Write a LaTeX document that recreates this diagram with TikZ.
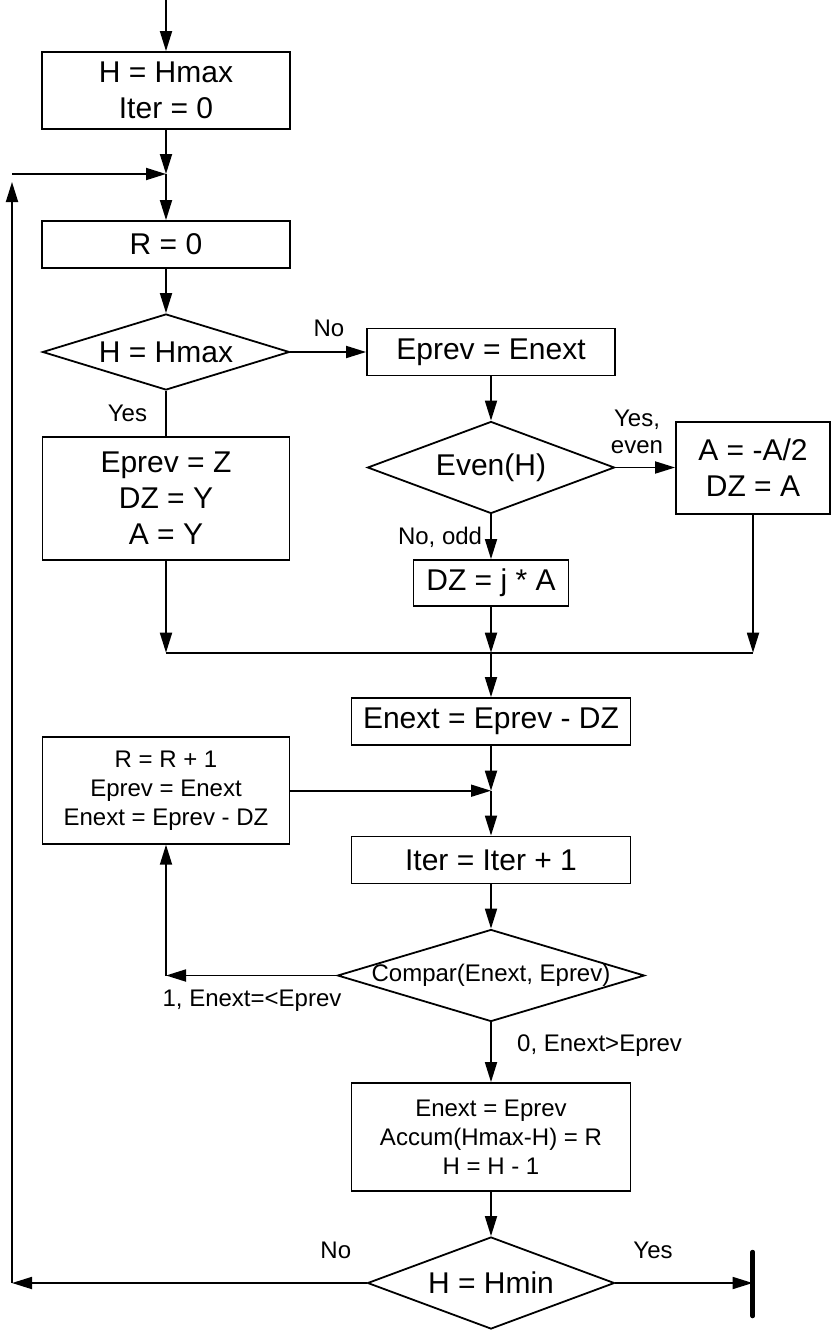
\documentclass[tikz,border=0pt]{standalone}
\usepackage{fontspec}
\setmainfont{Liberation Sans}
\usetikzlibrary{arrows.meta,shapes.geometric}
\tikzset{
  ln/.style={line width=1.8pt},
  arr/.style={ln, -{Triangle[length=20pt,width=12pt]}},
  big/.style={font=\fontsize{30}{36}\selectfont, align=center, inner sep=0pt},
  sml/.style={font=\fontsize{24}{29}\selectfont, align=center, inner sep=0pt},
  box/.style={draw, line width=1.8pt, inner sep=0pt, align=center},
  dia/.style={draw, diamond, line width=1.8pt, inner sep=0pt},
  lbl/.style={font=\fontsize{24}{26}\selectfont, inner sep=0pt, anchor=base},
}
\begin{document}
\begin{tikzpicture}[x=1pt,y=-1pt]
\useasboundingbox (0,0) rectangle (831,1330);

% boxes
\node[box,big,minimum width=248pt,minimum height=77pt] (b1) at (166,90.5) {H = Hmax\\Iter = 0};
\node[box,big,minimum width=248pt,minimum height=47pt] (r0) at (166,244.5) {R = 0};
\node[box,big,minimum width=248pt,minimum height=47pt] (ep) at (491,352) {Eprev = Enext};
\node[box,big,minimum width=247pt,minimum height=123pt] (ez) at (166,498.5) {Eprev = Z\\DZ = Y\\A = Y};
\node[box,big,minimum width=154pt,minimum height=92pt] (aa) at (753,468) {A = -A/2\\DZ = A};
\node[box,big,minimum width=155pt,minimum height=46pt] (dz) at (491,583) {DZ = j * A};
\node[box,big,minimum width=279pt,minimum height=47pt] (en) at (491,721.5) {Enext = Eprev - DZ};
\node[box,sml,minimum width=247pt,minimum height=107pt] (rr) at (166,790.3) {R = R + 1\\Eprev = Enext\\Enext = Eprev - DZ};
\node[box,big,minimum width=279pt,minimum height=47pt] (it) at (491,860) {Iter = Iter + 1};
\node[box,sml,minimum width=279pt,minimum height=108pt] (ee) at (491,1137) {Enext = Eprev\\Accum(Hmax-H) = R\\H = H - 1};

% diamonds
\node[dia,minimum width=247pt,minimum height=76pt] (d1) at (166,352) {};
\node[big] (d1t) at (d1) {H = Hmax};
\node[dia,minimum width=247pt,minimum height=92pt] (d2) at (491,467.5) {};
\node[big] (d2t) at (d2) {Even(H)};
\node[dia,minimum width=307pt,minimum height=92pt] (d3) at (491,975.5) {};
\node[sml] (d3t) at (d3) {Compar(Enext, Eprev)};
\node[dia,minimum width=247pt,minimum height=92pt] (d4) at (491,1283) {};
\node[big] (d4t) at (d4) {H = Hmin};

% coordinates
\coordinate (top) at (166,0);
\coordinate (j1) at (166,174);
\coordinate (lt) at (12,174);
\coordinate (lt2) at (12,182);
\coordinate (lb) at (12,1283);
\coordinate (mL) at (166,652.7);
\coordinate (mM) at (491,652.7);
\coordinate (mR) at (753,652.7);
\coordinate (j3) at (491,790.7);
\coordinate (cc) at (166,975.5);
\coordinate (endp) at (752.6,1283);
\coordinate (barT) at (752.6,1252);
\coordinate (barB) at (752.6,1316);

% connectors
\draw[arr] (top) -- (b1.north);
\draw[arr] (b1.south) -- (j1);
\draw[arr] (lt) -- (j1);
\draw[arr] (j1) -- (r0.north);
\draw[arr] (r0.south) -- (d1.north);
\draw[arr] (d1.east) -- (ep.west |- d1.east);
\draw[ln] (d1.south) -- (ez.north);
\draw[arr] (ep.south) -- (d2.north);
\draw[arr] (d2.east) -- (aa.west |- d2.east);
\draw[arr] (d2.south) -- (dz.north);
\draw[arr] (ez.south) -- (mL);
\draw[arr] (dz.south) -- (mM);
\draw[arr] (aa.south) -- (mR);
\draw[ln] (mL) -- (mR);
\draw[arr] (mM) -- (en.north);
\draw[arr] (en.south) -- (j3);
\draw[arr] (rr.east |- j3) -- (j3);
\draw[arr] (j3) -- (it.north);
\draw[arr] (it.south) -- (d3.north);
\draw[arr] (d3.west) -- (cc);
\draw[arr] (cc) -- (rr.south);
\draw[arr] (d3.south) -- (ee.north);
\draw[arr] (ee.south) -- (d4.north);
\draw[arr] (d4.west) -- (lb);
\draw[arr] (lb) -- (lt2);
\draw[arr] (d4.east) -- (endp);
\draw[line width=4.5pt, line cap=round] (barT) -- (barB);

% labels
\node[lbl] (lno1) at (329,336) {No};
\node[lbl] (lyes1) at (127.5,421.7) {Yes};
\node[lbl] (lye1) at (637,426.7) {Yes,};
\node[lbl] (lye2) at (637,453) {even};
\node[lbl,anchor=base east] (lodd) at (482.3,544) {No, odd};
\node[lbl] (lc1) at (252,1006) {1, Enext=<Eprev};
\node[lbl,anchor=base west] (lc0) at (517,1051.7) {0, Enext>Eprev};
\node[lbl] (lno2) at (335.8,1258.3) {No};
\node[lbl] (lyes2) at (653,1258.3) {Yes};
\end{tikzpicture}
\end{document}
